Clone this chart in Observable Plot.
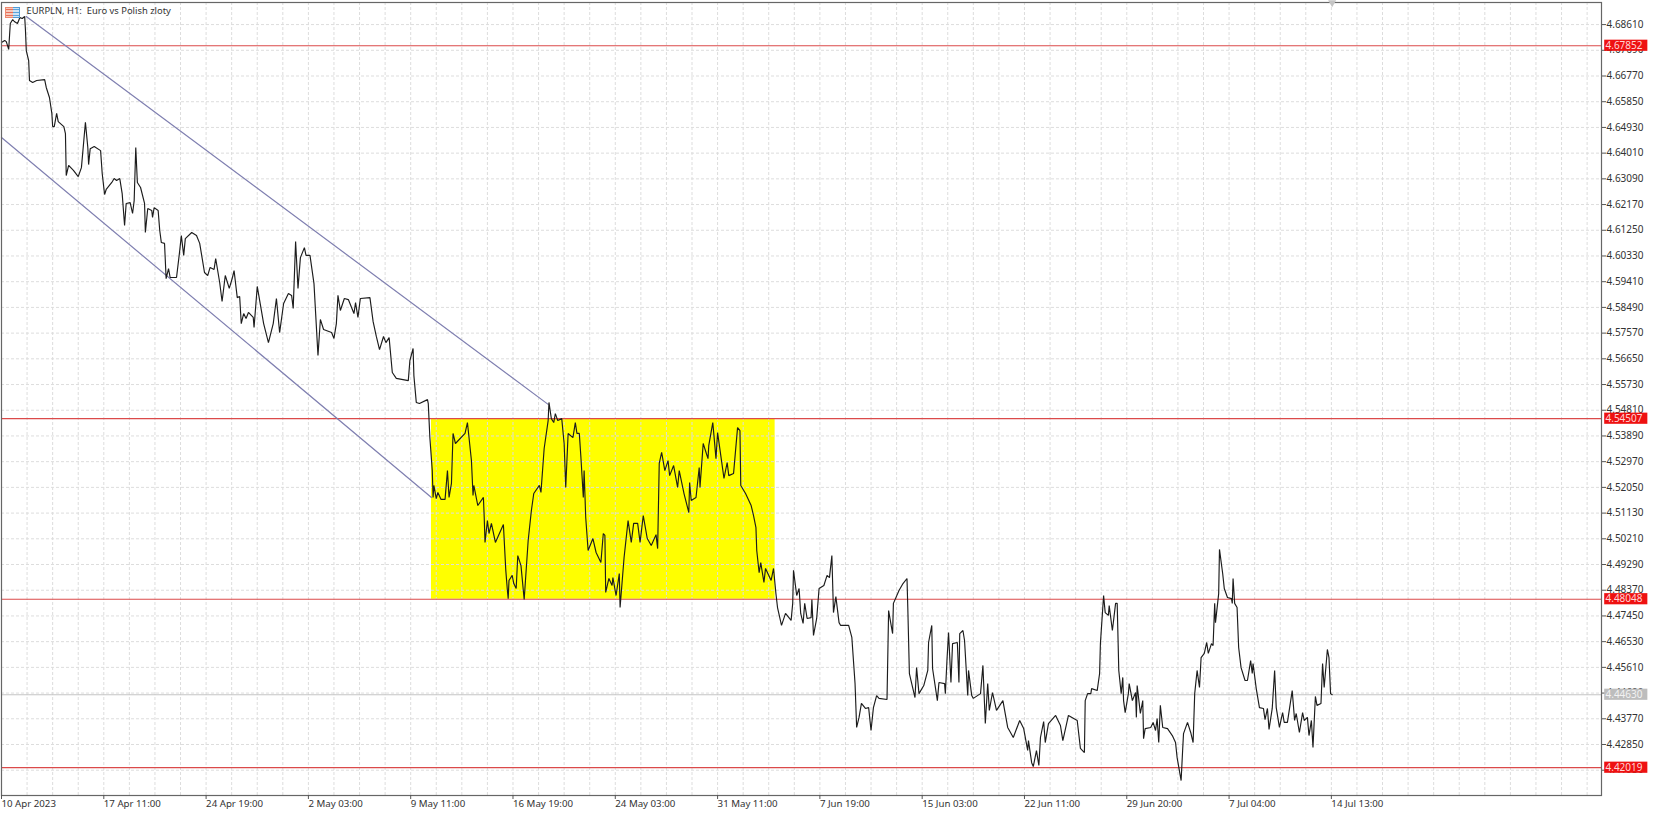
<!DOCTYPE html>
<html>
<head>
<meta charset="utf-8">
<script src="https://cdn.jsdelivr.net/npm/d3@7"></script>
<script src="https://cdn.jsdelivr.net/npm/@observablehq/plot@0.6"></script>
<style>
html,body{margin:0;padding:0;background:#fff;overflow:hidden}
#wrap{position:relative;width:1654px;height:813px}
#wrap svg{display:block}
#icon{position:absolute;left:5px;top:7px;width:15px;height:11px;display:flex}
#icon i{display:block;width:50%;height:100%;box-sizing:border-box}
#icon i:first-child{border:1px solid #ef8a70;border-right:0;background:repeating-linear-gradient(#f7c9bb 0 1px,#e8705a 1px 2px,#f7c9bb 2px 3px)}
#icon i:last-child{border:1px solid #4f9bd6;border-left:0;background:repeating-linear-gradient(#cfe4f5 0 1px,#5ba4dc 1px 2px,#cfe4f5 2px 3px)}
</style>
</head>
<body>
<div id="wrap"><div id="icon"><i></i><i></i></div></div>
<script>
const titleText = "EURPLN, H1:  Euro vs Polish zloty";

const xTickBars = [0,128,256,384,512,640,768,896,1024,1152,1280,1408,1536,1664];
const xTickLabels = ["10 Apr 2023","17 Apr 11:00","24 Apr 19:00","2 May 03:00","9 May 11:00","16 May 19:00","24 May 03:00","31 May 11:00","7 Jun 19:00","15 Jun 03:00","22 Jun 11:00","29 Jun 20:00","7 Jul 04:00","14 Jul 13:00"];
const yTicks = [4.6861,4.6769,4.6677,4.6585,4.6493,4.6401,4.6309,4.6217,4.6125,4.6033,4.5941,4.5849,4.5757,4.5665,4.5573,4.5481,4.5389,4.5297,4.5205,4.5113,4.5021,4.4929,4.4837,4.4745,4.4653,4.4561,4.4469,4.4377,4.4285,4.4193];

const levels = [4.67852,4.54507,4.48048,4.42019];
const lastPrice = 4.4463;

const zoneBars = [538,968];
const zonePrices = [4.48048,4.54507];
const upperBars = [31,684];
const upperPrices = [4.6890,4.5502];
const lowerBars = [0,538];
const lowerPrices = [4.6457,4.5169];

const bars = [
0,4,6,9,11,14,16,20,23,26,
29,30,31,34,35,39,44,54,56,60,
63,64,66,69,71,78,80,81,84,90,
96,100,103,105,108,109,111,116,124,126,
129,131,138,141,144,148,151,154,156,161,
164,166,168,170,174,179,180,183,188,189,
191,196,198,200,204,206,209,211,219,223,
225,228,230,238,244,248,254,258,261,266,
268,273,276,280,285,289,291,295,298,300,
303,306,309,315,316,320,328,334,340,344,
348,353,359,363,365,368,371,374,379,381,
386,391,396,399,403,413,416,419,421,424,
429,434,441,443,446,449,461,465,469,473,
478,481,485,489,494,509,511,515,516,519,
523,533,534,536,539,540,541,544,546,550,
555,558,560,563,565,568,580,583,588,590,
591,596,603,604,605,608,610,613,618,628,
631,633,634,635,639,641,644,646,650,654,
659,663,666,673,675,679,684,685,688,691,
693,696,701,704,706,709,715,718,720,723,
725,728,729,731,734,740,744,750,753,755,
756,760,764,765,769,773,774,779,784,788,
791,796,799,803,808,813,819,821,823,826,
830,834,836,841,846,848,854,860,861,863,
869,873,874,878,884,885,890,894,896,904,
908,910,916,921,924,925,931,938,941,944,
945,948,950,954,956,963,966,969,971,976,
981,988,990,991,995,998,1000,1003,1005,1008,
1013,1014,1016,1020,1023,1029,1033,1036,1039,1041,
1044,1048,1050,1060,1064,1068,1070,1073,1076,1081,
1085,1088,1091,1095,1098,1108,1110,1115,1116,1123,
1128,1133,1134,1136,1143,1145,1148,1154,1159,1160,
1164,1165,1171,1173,1180,1181,1183,1185,1188,1190,
1196,1198,1199,1203,1205,1209,1210,1214,1216,1225,
1228,1231,1234,1236,1240,1245,1253,1259,1266,1274,
1279,1284,1285,1289,1291,1295,1298,1300,1304,1306,
1310,1319,1325,1328,1335,1346,1350,1355,1356,1359,
1363,1364,1371,1374,1375,1379,1381,1385,1386,1390,
1394,1396,1398,1401,1403,1404,1406,1410,1411,1415,
1419,1420,1421,1425,1428,1429,1431,1438,1441,1444,
1446,1448,1450,1453,1459,1465,1469,1471,1476,1478,
1479,1484,1488,1491,1493,1496,1499,1501,1505,1508,
1510,1514,1516,1518,1519,1523,1524,1528,1530,1534,
1539,1540,1541,1543,1546,1548,1551,1556,1559,1563,
1565,1566,1570,1574,1579,1581,1584,1586,1590,1593,
1595,1599,1603,1605,1609,1615,1618,1620,1624,1628,
1630,1634,1636,1639,1641,1644,1646,1651,1653,1655,
1659,1661,1663,1665
];
const closes = [
4.6797,4.6804,4.6800,4.6772,4.6865,4.6879,4.6872,4.6865,4.6886,4.6883,
4.6890,4.6840,4.6768,4.6732,4.6661,4.6654,4.6661,4.6664,4.6636,4.6600,
4.6543,4.6496,4.6496,4.6543,4.6514,4.6496,4.6471,4.6321,4.6357,4.6339,
4.6317,4.6349,4.6446,4.6511,4.6421,4.6360,4.6417,4.6425,4.6410,4.6328,
4.6253,4.6271,4.6296,4.6310,4.6303,4.6310,4.6256,4.6142,4.6221,4.6224,
4.6185,4.6231,4.6421,4.6296,4.6278,4.6221,4.6117,4.6203,4.6196,4.6171,
4.6206,4.6196,4.6124,4.6081,4.6078,4.5952,4.5988,4.5956,4.5956,4.6052,
4.6106,4.6035,4.6095,4.6117,4.6106,4.6078,4.5974,4.5963,4.5992,4.5985,
4.6024,4.5938,4.5870,4.5963,4.5917,4.5956,4.5981,4.5884,4.5888,4.5791,
4.5827,4.5809,4.5831,4.5813,4.5777,4.5924,4.5791,4.5723,4.5791,4.5881,
4.5759,4.5863,4.5899,4.5892,4.5845,4.6085,4.5917,4.6027,4.6063,4.6035,
4.6035,4.5934,4.5677,4.5806,4.5770,4.5759,4.5738,4.5791,4.5892,4.5838,
4.5881,4.5877,4.5827,4.5866,4.5813,4.5881,4.5884,4.5798,4.5745,4.5698,
4.5745,4.5723,4.5741,4.5616,4.5595,4.5587,4.5659,4.5702,4.5605,4.5509,
4.5505,4.5519,4.5505,4.5383,4.5265,4.5169,4.5212,4.5165,4.5187,4.5162,
4.5162,4.5265,4.5169,4.5219,4.5398,4.5362,4.5398,4.5437,4.5301,4.5176,
4.5212,4.5140,4.5169,4.5097,4.5008,4.5086,4.5040,4.5076,4.5008,4.5072,
4.4908,4.4836,4.4807,4.4872,4.4890,4.4861,4.4843,4.4961,4.4925,4.4804,
4.5015,4.5122,4.5183,4.5212,4.5187,4.5344,4.5444,4.5509,4.5451,4.5437,
4.5469,4.5444,4.5451,4.5362,4.5205,4.5398,4.5383,4.5437,4.5398,4.5398,
4.5312,4.5169,4.5265,4.5097,4.4979,4.5022,4.4972,4.4936,4.5040,4.5033,
4.4829,4.4879,4.4854,4.4882,4.4818,4.4897,4.4775,4.4954,4.5086,4.5008,
4.5076,4.5076,4.5008,4.5104,4.5022,4.4997,4.5036,4.4986,4.5291,4.5330,
4.5265,4.5301,4.5247,4.5283,4.5205,4.5265,4.5183,4.5115,4.5222,4.5158,
4.5169,4.5276,4.5205,4.5362,4.5308,4.5355,4.5437,4.5308,4.5401,4.5237,
4.5294,4.5247,4.5255,4.5419,4.5408,4.5212,4.5183,4.5140,4.5104,4.5061,
4.4979,4.4900,4.4936,4.4865,4.4915,4.4872,4.4915,4.4825,4.4775,4.4711,
4.4754,4.4729,4.4790,4.4908,4.4818,4.4843,4.4754,4.4718,4.4790,4.4736,
4.4739,4.4804,4.4675,4.4736,4.4843,4.4854,4.4890,4.4882,4.4961,4.4757,
4.4814,4.4721,4.4711,4.4711,4.4668,4.4503,4.4346,4.4382,4.4432,4.4414,
4.4417,4.4335,4.4417,4.4460,4.4450,4.4446,4.4764,4.4682,4.4790,4.4836,
4.4861,4.4879,4.4775,4.4539,4.4453,4.4560,4.4467,4.4496,4.4550,4.4650,
4.4711,4.4557,4.4442,4.4507,4.4503,4.4467,4.4585,4.4686,4.4507,4.4646,
4.4650,4.4507,4.4682,4.4693,4.4657,4.4460,4.4550,4.4460,4.4450,4.4467,
4.4568,4.4360,4.4503,4.4407,4.4471,4.4407,4.4442,4.4346,4.4310,4.4371,
4.4342,4.4264,4.4299,4.4220,4.4206,4.4263,4.4210,4.4310,4.4367,4.4292,
4.4360,4.4389,4.4353,4.4299,4.4389,4.4371,4.4271,4.4256,4.4442,4.4467,
4.4467,4.4485,4.4478,4.4539,4.4646,4.4818,4.4757,4.4747,4.4782,4.4693,
4.4790,4.4790,4.4550,4.4467,4.4525,4.4442,4.4399,4.4467,4.4503,4.4442,
4.4471,4.4382,4.4496,4.4396,4.4442,4.4306,4.4342,4.4346,4.4364,4.4335,
4.4378,4.4292,4.4425,4.4346,4.4342,4.4317,4.4292,4.4238,4.4156,4.4271,
4.4324,4.4364,4.4328,4.4292,4.4467,4.4550,4.4489,4.4596,4.4611,4.4650,
4.4611,4.4646,4.4639,4.4790,4.4721,4.4825,4.4983,4.4897,4.4843,4.4811,
4.4807,4.4790,4.4879,4.4790,4.4775,4.4632,4.4560,4.4514,4.4514,4.4585,
4.4539,4.4575,4.4485,4.4417,4.4414,4.4374,4.4414,4.4339,4.4414,4.4550,
4.4417,4.4346,4.4399,4.4364,4.4364,4.4478,4.4371,4.4396,4.4328,4.4399,
4.4371,4.4382,4.4317,4.4371,4.4274,4.4457,4.4425,4.4432,4.4575,4.4489,
4.4625,4.4596,4.4467,4.4463
];

const series = bars.map((b,i)=>({bar:b,price:closes[i]}));
const channel = (bs,ps)=>bs.map((b,i)=>({bar:b,price:ps[i]}));
const xLabel = new Map(xTickBars.map((b,i)=>[b,xTickLabels[i]]));
const tags = [
  ...levels.map(v=>({v,fill:"#ee1111",text:"#ffd6d6"})),
  {v:lastPrice,fill:"#bdbdbd",text:"#f2f2f2"}
];
const tagLeft = 2006, tagRight = 2060, tagHalf = 0.0020;

const chart = Plot.plot({
  width:1654, height:813,
  marginLeft:1, marginRight:53, marginTop:2, marginBottom:18,
  style:{background:"#fff",fontFamily:"'Noto Sans',sans-serif",fontSize:"10px",color:"#333"},
  x:{domain:[0,2002]},
  y:{domain:[4.41025,4.6940]},
  marks:[
    Plot.rect([0],{x1:zoneBars[0],x2:zoneBars[1],y1:zonePrices[0],y2:zonePrices[1],fill:"#ffff00"}),
    Plot.gridX(d3.range(32,2002,32),{stroke:"#dddddd",strokeOpacity:1,strokeDasharray:"3,2"}),
    Plot.gridY(yTicks,{stroke:"#dddddd",strokeOpacity:1,strokeDasharray:"3,2"}),
    Plot.ruleY([lastPrice],{stroke:"#c4c4c4",strokeWidth:1.2}),
    Plot.ruleY(levels,{stroke:"#db4a4a",strokeWidth:1.2}),
    Plot.line(channel(upperBars,upperPrices),{x:"bar",y:"price",stroke:"#7f7fb0",strokeWidth:1.2}),
    Plot.line(channel(lowerBars,lowerPrices),{x:"bar",y:"price",stroke:"#7f7fb0",strokeWidth:1.2}),
    Plot.line(series,{x:"bar",y:"price",stroke:"#1c1c1c",strokeWidth:1.15,strokeLinejoin:"miter"}),
    Plot.frame({stroke:"#666",strokeWidth:1.2}),
    Plot.axisY(yTicks,{anchor:"right",label:null,tickSize:4,tickPadding:1,stroke:"#555",tickFormat:d3.format(".5f"),fill:"#333",fontSize:10}),
    Plot.axisX(xTickBars,{anchor:"bottom",label:null,tickSize:4,tickPadding:1,stroke:"#555",tickFormat:d=>xLabel.get(d),textAnchor:"start",fill:"#333",fontSize:9.7}),
    Plot.rect(tags,{x1:()=>tagLeft,x2:()=>tagRight,y1:d=>d.v-tagHalf,y2:d=>d.v+tagHalf,fill:"fill"}),
    Plot.text(tags,{x:()=>tagLeft+1,y:"v",text:d=>d.v.toFixed(5),fill:"text",textAnchor:"start",fontSize:10}),
    Plot.text([titleText],{frameAnchor:"top-left",dx:25,dy:5,fill:"#333",textAnchor:"start",lineAnchor:"top",fontSize:9.4}),
    Plot.dot([1665],{x:d=>d,y:()=>4.6940,symbol:"triangle",rotate:180,r:3,fill:"#c4c4c4",stroke:"none"})
  ]
});
document.getElementById("wrap").prepend(chart);
</script>
</body>
</html>
